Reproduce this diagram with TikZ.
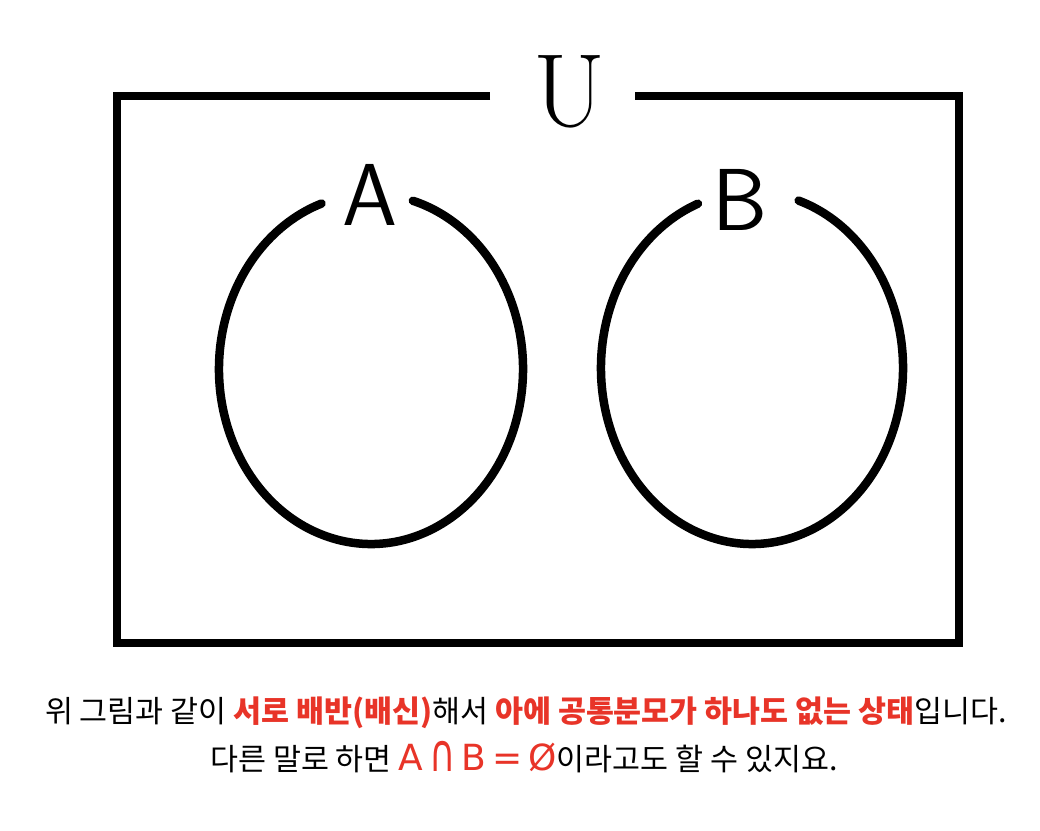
\documentclass[tikz,border=0pt]{standalone}
\usepackage{fontspec}
\setmainfont{Noto Sans CJK KR}
\newfontfamily\symfont{DejaVu Sans}
\newfontfamily\lmfont{Latin Modern Roman}
\newfontfamily\lmsans{Latin Modern Sans}
\usetikzlibrary{positioning}
\definecolor{hlred}{RGB}{232,52,40}
\tikzset{
  frame/.style={line width=8.5pt,black,line cap=round},
  setlabel/.style={inner sep=0pt,font=\lmsans\fontsize{88}{88}\selectfont},
  caption/.style={inner sep=0pt,font=\fontsize{30.4}{36}\selectfont}
}
\newcommand{\hl}[1]{\textcolor{hlred}{\bfseries #1}}
\begin{document}
\begin{tikzpicture}[x=1pt,y=-1pt]
    \useasboundingbox (0,0) rectangle (1040,830);
    \fill[white] (0,0) rectangle (1040,830);
    % universe with a gap for its label
    \coordinate (gapl) at (490,96);
    \coordinate (gapr) at (635,96);
    \draw[frame,line cap=butt] (gapl) -- (117,96) -- (117,643) -- (959,643) -- (959,96) -- (gapr);
    \node[inner sep=0pt,font=\lmfont\fontsize{104}{104}\selectfont] (U) at (570,92) {U};

    % set A
    \coordinate (ca) at (371,369);
    \draw[frame] (ca) ++(286:152 and 175) arc[start angle=286,end angle=611,x radius=152,y radius=175];
    \node[setlabel] (A) at (370,195) {A};

    % set B
    \coordinate (cb) at (752,368);
    \draw[frame] (cb) ++(288:151 and 176) arc[start angle=288,end angle=609,x radius=151,y radius=176];
    \node[setlabel] (B) at (740,200) {B};

    % caption
    \node[caption] (line1) at (526,713) {위 그림과 같이 \hl{서로 배반(배신)}해서 \hl{아에 공통분모가 하나도 없는 상태}입니다.};
    \node[caption] (line2) at (524,757) {다른 말로 하면 {\symfont\fontsize{36}{36}\selectfont\textcolor{hlred}{A\,\raisebox{-0.05em}{\scalebox{1}[1.45]{∩}}\,B\,=\,Ø}}이라고도 할 수 있지요.};
\end{tikzpicture}
\end{document}
